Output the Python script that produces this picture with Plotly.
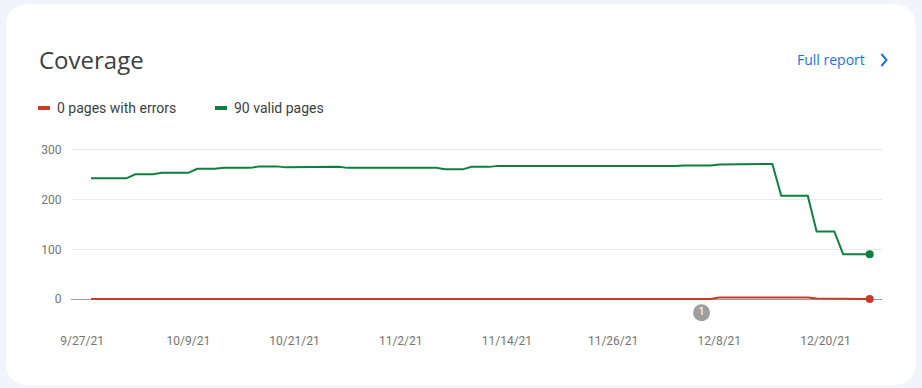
import pandas as pd
import plotly.graph_objects as go

# ---------------- data ----------------
start_date = "2021-09-28"
valid_pages = [243, 243, 243, 243, 243, 251, 251, 251, 254, 254,
               254, 254, 262, 262, 262, 264, 264, 264, 264, 267,
               267, 267, 265, 265, 265, 266, 266, 266, 266, 264,
               264, 264, 264, 264, 264, 264, 264, 264, 264, 264,
               261, 261, 261, 266, 266, 266, 268, 268, 268, 267,
               267, 267, 267, 267, 267, 267, 267, 267, 267, 267,
               267, 268, 268, 268, 268, 268, 268, 269, 269, 269,
               269, 271, 271, 271, 272, 272, 272, 272, 208, 208,
               208, 208, 136, 136, 136, 90, 90, 90, 90]
error_pages = [0] * 71 + [3, 3, 3, 3, 3, 3, 3, 3, 3, 3, 3] + [1, 1, 1] + [0, 0, 0, 0]
tick_dates = ["2021-09-27", "2021-10-09", "2021-10-21", "2021-11-02",
              "2021-11-14", "2021-11-26", "2021-12-08", "2021-12-20"]
tick_labels = ["9/27/21", "10/9/21", "10/21/21", "11/2/21",
               "11/14/21", "11/26/21", "12/8/21", "12/20/21"]
y_ticks = [0, 100, 200, 300]
event_dates = ["2021-12-06"]
event_labels = ["1"]
legend_labels = ["0 pages with errors", "90 valid pages"]

dates = pd.date_range(start_date, periods=len(valid_pages))

GREEN = "#0f7f3f"
RED = "#c93a2b"

W, H = 922, 388
L, R, T, B = 71, 40, 140, 74
PW, PH = W - L - R, H - T - B


def px(x):
    return (x - L) / PW


def py(y):
    return (H - B - y) / PH


fig = go.Figure()

fig.add_trace(go.Scatter(x=dates, y=valid_pages, mode="lines",
                         line=dict(color=GREEN, width=2), hoverinfo="skip"))
fig.add_trace(go.Scatter(x=dates, y=error_pages, mode="lines",
                         line=dict(color=RED, width=2.2), hoverinfo="skip"))
fig.add_trace(go.Scatter(x=[dates[-1]], y=[valid_pages[-1]], mode="markers",
                         marker=dict(color=GREEN, size=8), cliponaxis=False))
fig.add_trace(go.Scatter(x=[dates[-1]], y=[error_pages[-1]], mode="markers",
                         marker=dict(color=RED, size=8), cliponaxis=False))
fig.add_trace(go.Scatter(x=pd.to_datetime(event_dates), y=[-27.6] * len(event_dates),
                         mode="markers+text", text=event_labels,
                         textposition="middle center",
                         textfont=dict(color="white", size=11, family="Roboto"),
                         marker=dict(color="#9e9e9e", size=17),
                         cliponaxis=False))

x0 = pd.Timestamp(start_date) + pd.Timedelta(days=(L - 91) / 8.849)
x1 = pd.Timestamp(start_date) + pd.Timedelta(days=(W - R - 91) / 8.849)

fig.update_layout(
    width=W, height=H,
    margin=dict(l=L, r=R, t=T, b=B, pad=0),
    paper_bgcolor="#f1f4fa",
    plot_bgcolor="white",
    showlegend=False,
    font=dict(family="Roboto", color="#3c4043"),
    xaxis=dict(
        range=[x0, x1], tickvals=pd.to_datetime(tick_dates), ticktext=tick_labels,
        showgrid=False, zeroline=False, showline=False,
        ticks="outside", ticklen=16, tickcolor="rgba(0,0,0,0)",
        tickfont=dict(family="Roboto", size=12, color="#757575"),
    ),
    yaxis=dict(
        range=[-30.2, 320.1], tickvals=y_ticks,
        showgrid=True, gridcolor="#e8eaed", gridwidth=1,
        zeroline=True, zerolinecolor="#9e9e9e", zerolinewidth=1,
        showline=False, ticks="outside", ticklen=6, tickcolor="rgba(0,0,0,0)",
        tickfont=dict(family="Roboto", size=12, color="#757575"),
    ),
)

# card background (rounded rectangle)
cx0, cy0, cx1, cy1, rad = 6, 4, 916, 385, 24
path = (f"M {px(cx0 + rad)} {py(cy0)} L {px(cx1 - rad)} {py(cy0)} "
        f"Q {px(cx1)} {py(cy0)} {px(cx1)} {py(cy0 + rad)} "
        f"L {px(cx1)} {py(cy1 - rad)} Q {px(cx1)} {py(cy1)} {px(cx1 - rad)} {py(cy1)} "
        f"L {px(cx0 + rad)} {py(cy1)} Q {px(cx0)} {py(cy1)} {px(cx0)} {py(cy1 - rad)} "
        f"L {px(cx0)} {py(cy0 + rad)} Q {px(cx0)} {py(cy0)} {px(cx0 + rad)} {py(cy0)} Z")
shapes = [dict(type="path", xref="paper", yref="paper", path=path,
               fillcolor="white", line=dict(width=0), layer="below")]

# legend swatches
for (sx, col) in [(38, RED), (215, GREEN)]:
    shapes.append(dict(type="line", xref="paper", yref="paper",
                       x0=px(sx), x1=px(sx + 12), y0=py(108), y1=py(108),
                       line=dict(color=col, width=4)))
# chevron
shapes.append(dict(type="path", xref="paper", yref="paper",
                   path=f"M {px(881.5)} {py(54)} L {px(886.5)} {py(60)} L {px(881.5)} {py(66)}",
                   line=dict(color="#1a73e8", width=2)))
fig.update_layout(shapes=shapes)

ann = [
    dict(text="Coverage", x=px(37), y=py(60), xanchor="left", yanchor="middle",
         font=dict(family="Open Sans", size=24, color="#3c4043")),
    dict(text="Full report", x=px(867), y=py(60), xanchor="right", yanchor="middle",
         font=dict(family="Open Sans", size=14, color="#1a73e8")),
    dict(text=legend_labels[0], x=px(55), y=py(108), xanchor="left", yanchor="middle",
         font=dict(family="Roboto", size=14, color="#3c4043")),
    dict(text=legend_labels[1], x=px(232), y=py(108), xanchor="left", yanchor="middle",
         font=dict(family="Roboto", size=14, color="#3c4043")),
]
for a in ann:
    a.update(xref="paper", yref="paper", showarrow=False)
fig.update_layout(annotations=ann)

fig.write_html("out.html", config={"displayModeBar": False},
               post_script="document.body.style.margin='0';document.body.style.overflow='hidden';")
